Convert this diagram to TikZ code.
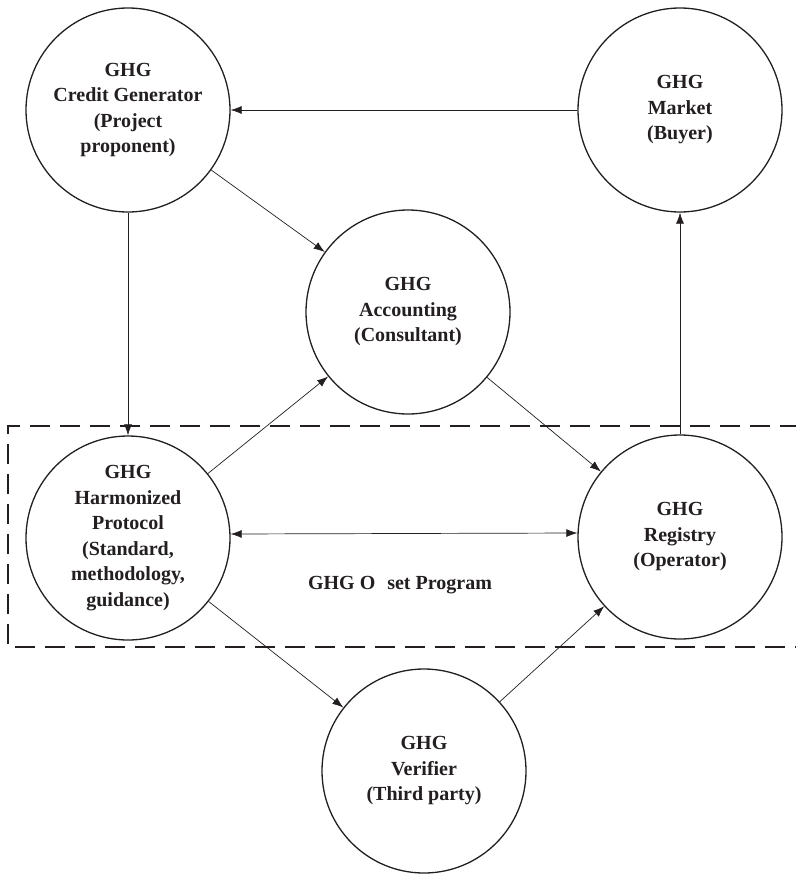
\documentclass[tikz,border=0pt]{standalone}
\usepackage{fontspec}
\setmainfont{Liberation Serif}
\usepackage{tikz}
\usetikzlibrary{arrows.meta}
\definecolor{inkgray}{HTML}{231F20}
\tikzset{
  ghgcircle/.style={draw=inkgray,line width=1.3pt,circle,minimum size=204pt,
        inner sep=0pt,align=center,text=inkgray,
        font=\bfseries\fontsize{20}{25.5}\selectfont},
  flow/.style={draw=inkgray,line width=0.7pt,-{Latex[length=11pt,width=8pt]}},
  programbox/.style={draw=inkgray,line width=1.6pt,dash pattern=on 20pt off 10pt}
}

\begin{document}
\begin{tikzpicture}[x=1pt,y=-1pt]
  \useasboundingbox (0,0) rectangle (795,875);
  % offset program area (open on the right)
  \draw[programbox] (800,426) -| (8,647) -- (800,647);
  \node[text=inkgray,font=\bfseries\fontsize{20}{25.5}\selectfont] (prog) at (400,585)
        {GHG O\hspace{0.6em}set Program};
  % actors
  \node[ghgcircle] (gen) at (128,110) {GHG\\Credit Generator\\(Project\\proponent)};
  \node[ghgcircle] (mkt) at (680,110) {GHG\\Market\\(Buyer)};
  \node[ghgcircle] (acc) at (408,312) {GHG\\Accounting\\(Consultant)};
  \node[ghgcircle,fill=white] (prot) at (128,538)
        {GHG\\Harmonized\\Protocol\\(Standard,\\methodology,\\guidance)};
  \node[ghgcircle,fill=white] (reg) at (680,537) {GHG\\Registry\\(Operator)};
  \node[ghgcircle,fill=white] (ver) at (424,771) {GHG\\Verifier\\(Third party)};
  % flows
  \draw[flow] (mkt) -- (gen);
  \draw[flow] (gen) -- (acc);
  \draw[flow] (gen) -- (prot);
  \draw[flow] (prot) -- (acc);
  \draw[flow] (acc) -- (reg);
  \draw[flow,{Latex[length=11pt,width=8pt]}-{Latex[length=11pt,width=8pt]}]
        ([yshift=4pt]prot.east) -- ([yshift=4pt]reg.west);
  \draw[flow] (reg) -- (mkt);
  \draw[flow] (prot) -- (ver);
  \draw[flow] (ver) -- (reg);
\end{tikzpicture}
\end{document}
